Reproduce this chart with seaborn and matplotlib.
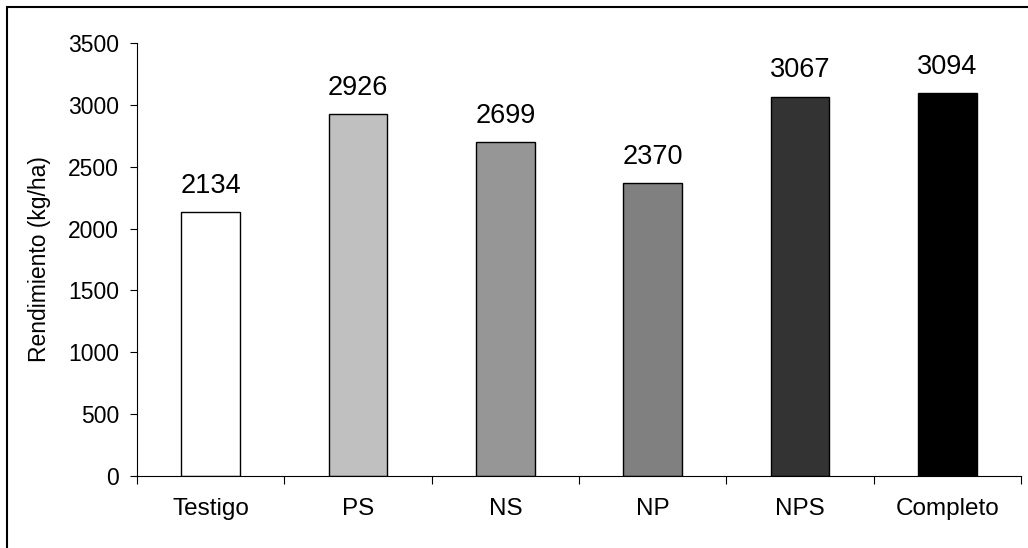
import matplotlib
matplotlib.use("Agg")
import matplotlib.pyplot as plt
from matplotlib.patches import Rectangle
import pandas as pd
import seaborn as sns

# Yield by fertilization treatment
tratamientos = ["Testigo", "PS", "NS", "NP", "NPS", "Completo"]
rendimiento = [2134, 2926, 2699, 2370, 3067, 3094]
colores = ["#FFFFFF", "#C0C0C0", "#969696", "#808080", "#333333", "#000000"]
yticks = [0, 500, 1000, 1500, 2000, 2500, 3000, 3500]

sns.set_theme(style="white")
plt.rcParams["font.family"] = ["Liberation Sans", "DejaVu Sans"]

df = pd.DataFrame({"Tratamiento": tratamientos, "Rendimiento": rendimiento})

W, H = 1028, 548
fig = plt.figure(figsize=(W / 100, H / 100), dpi=100)
ax = fig.add_axes([137 / W, 1 - 476 / H, (1021 - 137) / W, (476 - 43) / H])

sns.barplot(data=df, x="Tratamiento", y="Rendimiento", hue="Tratamiento",
            palette=colores, order=tratamientos, hue_order=tratamientos,
            width=0.4, edgecolor="black", linewidth=1.0, legend=False, ax=ax)

for i, v in enumerate(rendimiento):
    ax.annotate(f"{v}", xy=(i, v), xytext=(0, 9.5), textcoords="offset points",
                ha="center", va="bottom", fontsize=19.5, color="black")

ax.set_xlim(-0.5, len(tratamientos) - 0.5)
ax.set_ylim(0, 3500)
ax.set_yticks(yticks)
ax.set_yticklabels([str(t) for t in yticks])
ax.set_xlabel("")
ax.set_ylabel("Rendimiento (kg/ha)", fontsize=16.5, labelpad=12, color="black")

for s in ["top", "right"]:
    ax.spines[s].set_visible(False)
for s in ["left", "bottom"]:
    ax.spines[s].set_color("black")
    ax.spines[s].set_linewidth(0.8)

ax.tick_params(axis="y", which="major", direction="out", length=5, width=0.8,
               pad=8, labelsize=16.5, colors="black", left=True)
ax.tick_params(axis="x", which="major", length=0, pad=16, labelsize=17.5,
               colors="black")
ax.set_xticks([i - 0.5 for i in range(len(tratamientos) + 1)], minor=True)
ax.tick_params(axis="x", which="minor", direction="out", length=6, width=0.8,
               color="black", bottom=True)
ax.grid(False)

# Outer frame around the chart area
fig.add_artist(Rectangle((7 / W, -0.1), 1.2, 1.1 - 7 / H,
                         transform=fig.transFigure, fill=False,
                         edgecolor="black", linewidth=1.5))

fig.savefig("out.png", dpi=100, facecolor="white")
